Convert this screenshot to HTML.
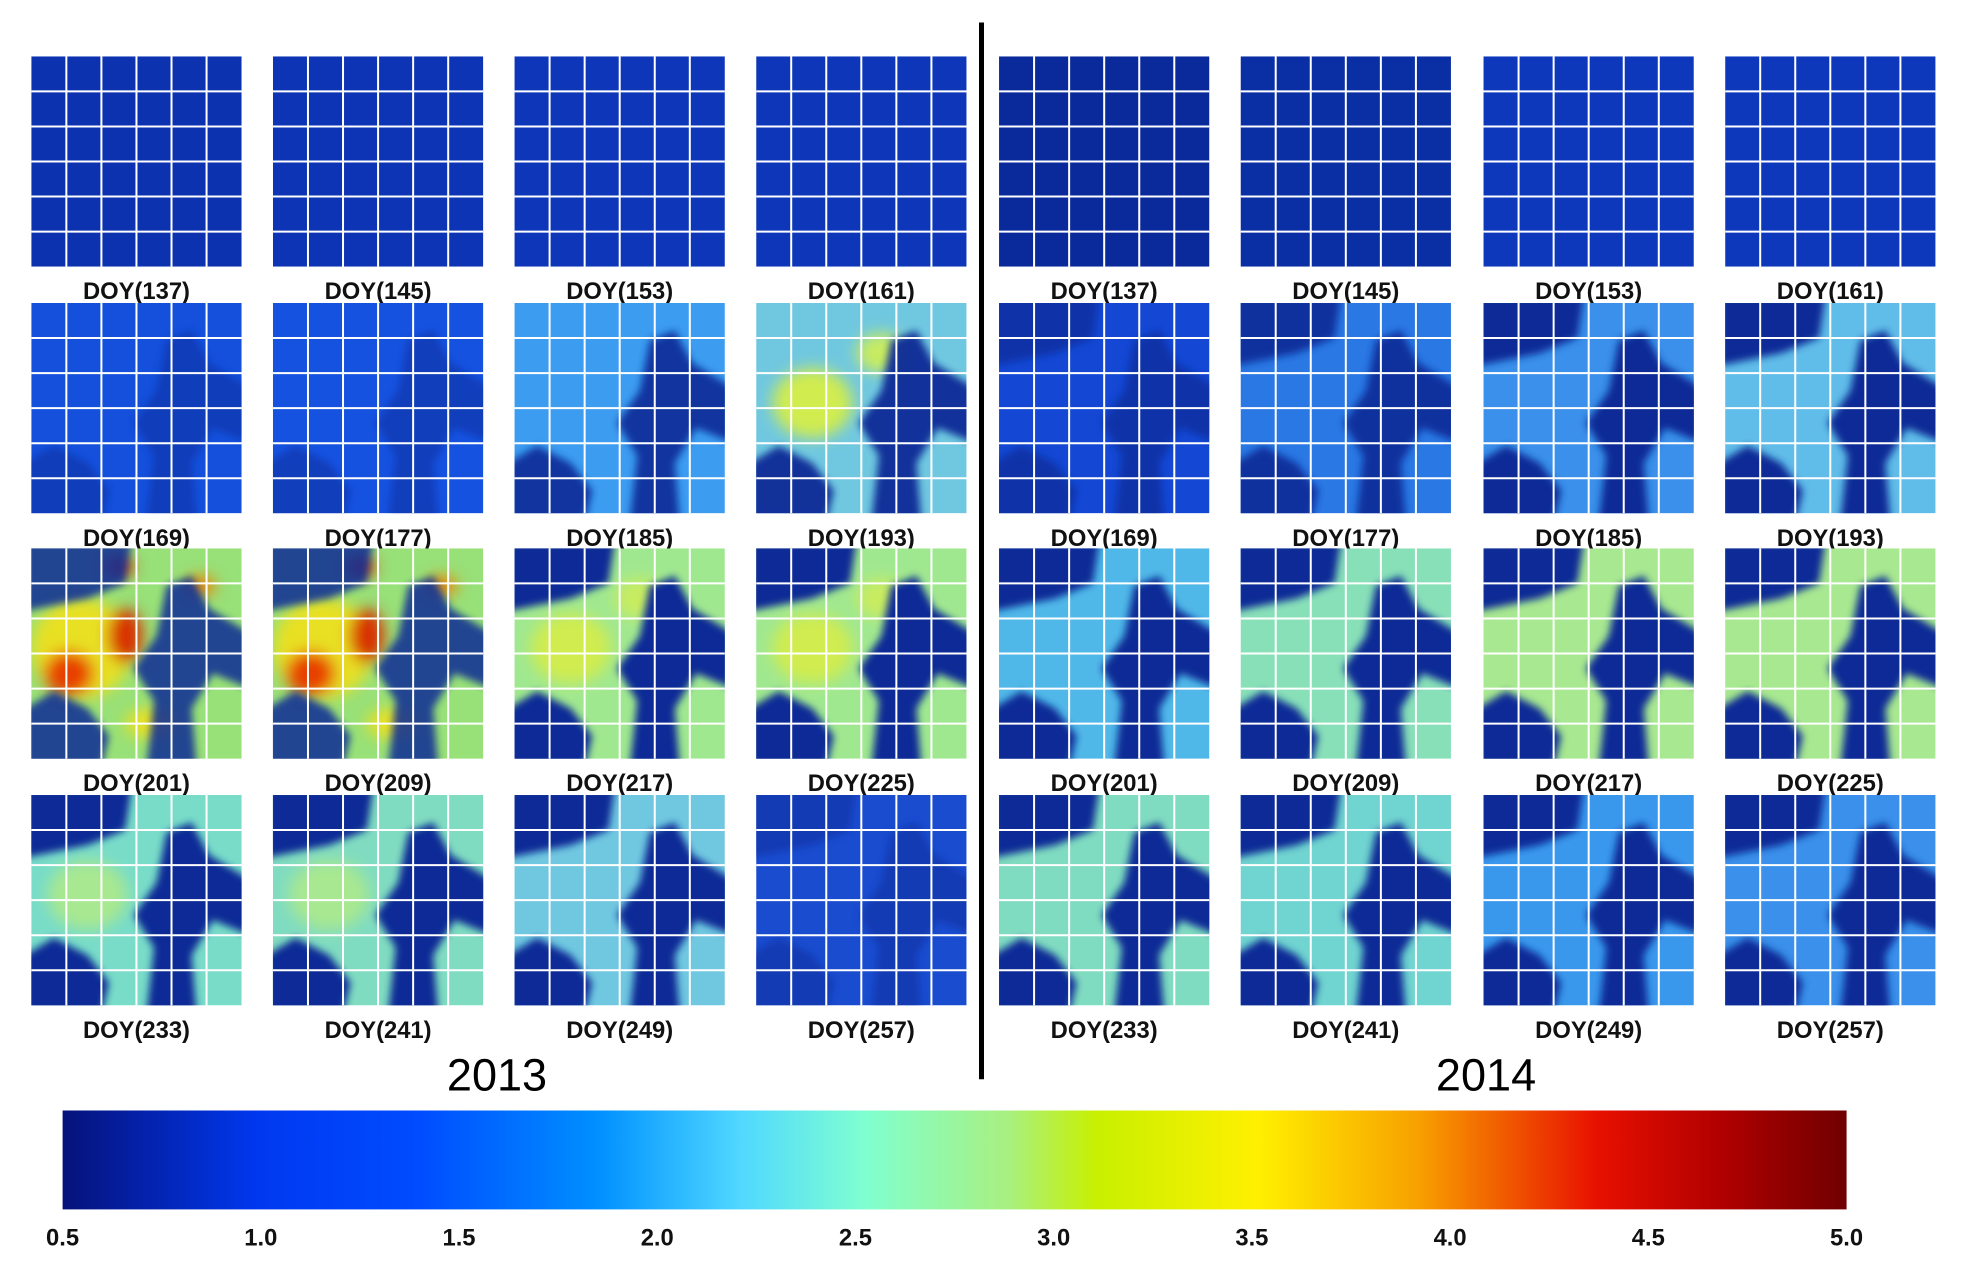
<!DOCTYPE html>
<html><head><meta charset="utf-8"><style>
html,body{margin:0;padding:0;background:#fff;}
svg{display:block;}
</style></head><body>
<svg id="s" width="1963" height="1275" viewBox="0 0 1568 1018.4" preserveAspectRatio="none" xmlns="http://www.w3.org/2000/svg">
<defs>
<linearGradient id="jet" x1="0" x2="1" y1="0" y2="0">
<stop offset="0" stop-color="#06127a"/>
<stop offset="0.11" stop-color="#0038f0"/>
<stop offset="0.2" stop-color="#004cff"/>
<stop offset="0.3" stop-color="#0090ff"/>
<stop offset="0.38" stop-color="#50d8ff"/>
<stop offset="0.45" stop-color="#80ffd0"/>
<stop offset="0.53" stop-color="#a8f080"/>
<stop offset="0.58" stop-color="#c8f000"/>
<stop offset="0.67" stop-color="#fff000"/>
<stop offset="0.76" stop-color="#f8a000"/>
<stop offset="0.86" stop-color="#e81000"/>
<stop offset="0.93" stop-color="#b00000"/>
<stop offset="1" stop-color="#700000"/>
</linearGradient>
<filter id="bl" x="-20%" y="-20%" width="140%" height="140%"><feGaussianBlur stdDeviation="6"/></filter>
<filter id="bl2" x="-20%" y="-20%" width="140%" height="140%"><feGaussianBlur stdDeviation="3"/></filter>
<clipPath id="cp"><rect x="0" y="0" width="168" height="168"/></clipPath>
</defs>
<g id="panels"></g>
<line x1="784" y1="18" x2="784" y2="862" stroke="#000" stroke-width="4"/>
<g font-family="Liberation Sans, sans-serif" font-size="36" text-anchor="middle" fill="#000">
<text x="397" y="871">2013</text><text x="1187" y="871">2014</text>
</g>
<rect x="50" y="887" width="1425" height="79" fill="url(#jet)"/>
<g id="ticks" font-family="Liberation Sans, sans-serif" font-size="19" font-weight="bold" text-anchor="middle" fill="#111"></g>
</svg>
<script>
var NS="http://www.w3.org/2000/svg";
var P=document.getElementById('panels');
var xs=[25,218,411,604,798,991,1185,1378], ys=[45,242,438,635];
var doys=[[137,145,153,161],[169,177,185,193],[201,209,217,225],[233,241,249,257]];
var base=[
[["#0c32b0","#0c34b4","#0d36b8","#0d36b8"],["#1450dc","#1652e0","#3c9cf0","#70c8e0"],["#98e078","#98e078","#a0e890","#a0e890"],["#78dcc8","#80dcc0","#70c8e0","#1a4cd0"]],
[["#0a2a9c","#0a2ea4","#0e38bc","#0e38bc"],["#1448d4","#2a78e4","#3a90ea","#60bce8"],["#50b8e8","#88e0b8","#a8e890","#a8e890"],["#80dcc0","#70d4d0","#3a98ec","#3a90ea"]]];
var dark=[
[[0,0,0,0],[0.5,0.5,0.9,0.95],[0.85,0.85,1,1],[1,1,1,0.5]],
[[0,0,0,0],[0.7,0.9,1,1],[1,1,1,1],[1,1,1,1]]];
var hot={ "0,2,0":1,"0,2,1":1 };
var warm={ "0,1,3":1,"0,2,2":1,"0,2,3":1 };
var mild={ "0,3,0":1,"0,3,1":1 };
function el(n,a,p){var e=document.createElementNS(NS,n);for(var k in a)e.setAttribute(k,a[k]);p.appendChild(e);return e;}
for(var y=0;y<2;y++)for(var r=0;r<4;r++)for(var c=0;c<4;c++){
 var X=xs[y*4+c],Y=ys[r];
 var g=el('g',{transform:'translate('+X+','+Y+')','clip-path':'url(#cp)'},P);
 el('rect',{x:0,y:0,width:168,height:168,fill:base[y][r][c]},g);
 var b=el('g',{filter:'url(#bl)'},g);
 var key=y+','+r+','+c;
 if(hot[key]){
  el('ellipse',{cx:40,cy:80,rx:40,ry:40,fill:'#e8e020'},b);
  el('ellipse',{cx:30,cy:100,rx:20,ry:18,fill:'#e84000'},b);
  el('ellipse',{cx:75,cy:70,rx:14,ry:22,fill:'#d83000'},b);
  el('ellipse',{cx:70,cy:15,rx:12,ry:8,fill:'#e03000'},b);
  el('ellipse',{cx:135,cy:30,rx:12,ry:8,fill:'#f08000'},b);
  el('ellipse',{cx:95,cy:140,rx:20,ry:12,fill:'#e8e020'},b);
 } else if(warm[key]){
  el('ellipse',{cx:45,cy:80,rx:32,ry:28,fill:'#d0ec50'},b);
  el('ellipse',{cx:100,cy:40,rx:20,ry:16,fill:'#c8ec60'},b);
 } else if(mild[key]){
  el('ellipse',{cx:45,cy:80,rx:32,ry:28,fill:'#a8e890'},b);
 }
 var d=dark[y][r][c];
 if(d>0){
  var o=el('g',{filter:'url(#bl2)',opacity:d,fill:'#0a2a96'},g);
  if(y==1||r>=2) el('polygon',{points:'-5,-5 80,-5 75,28 45,40 20,45 -5,50'},o);
  el('polygon',{points:'108,30 128,22 142,48 175,68 175,112 145,100 128,128 132,175 92,175 98,122 82,96 100,70'},o);
  el('polygon',{points:'-5,128 18,114 45,128 62,150 56,175 -5,175'},o);
 }
 for(var i=1;i<6;i++){
  el('line',{x1:i*28,y1:0,x2:i*28,y2:168,stroke:'#fff','stroke-width':1.6},g);
  el('line',{x1:0,y1:i*28,x2:168,y2:i*28,stroke:'#fff','stroke-width':1.6},g);
 }
 var t=el('text',{x:X+84,y:Y+194,'font-family':'Liberation Sans, sans-serif','font-size':19,'font-weight':'bold','text-anchor':'middle',fill:'#111'},P);
 t.textContent='DOY('+doys[r][c]+')';
}
var T=document.getElementById('ticks');
for(var i=0;i<10;i++){var t=el('text',{x:50+i*158.33,y:995},T);t.textContent=(0.5+i*0.5).toFixed(1);}
</script>
</body></html>
